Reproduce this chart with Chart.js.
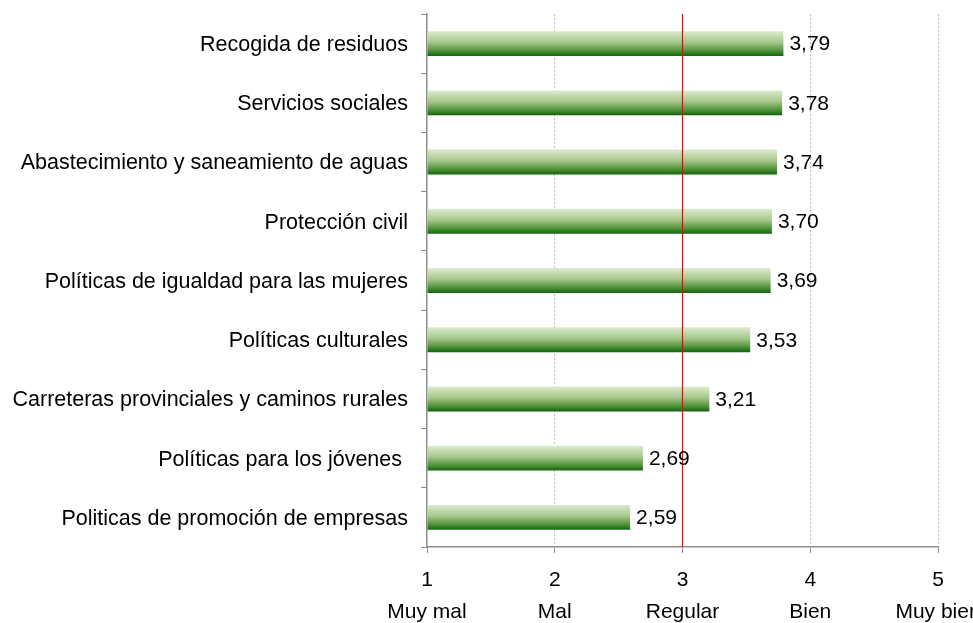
<!DOCTYPE html>
<html>
<head>
<meta charset="utf-8">
<script src="https://cdn.jsdelivr.net/npm/chart.js@4.4.1/dist/chart.umd.min.js"></script>
<style>
  html, body { margin: 0; padding: 0; background: #fff; }
  #wrap { width: 973px; height: 623px; }
</style>
</head>
<body>
<div id="wrap"><canvas id="grafico"></canvas></div>
<script>
// Servicios valorados y su nota media (1 = Muy mal ... 5 = Muy bien)
const servicios = [
  'Recogida de residuos',
  'Servicios sociales',
  'Abastecimiento y saneamiento de aguas',
  'Protección civil',
  'Políticas de igualdad para las mujeres',
  'Políticas culturales',
  'Carreteras provinciales y caminos rurales',
  'Políticas para los jóvenes ',
  'Politicas de promoción de empresas'
];
const valoraciones = [3.79, 3.78, 3.74, 3.70, 3.69, 3.53, 3.21, 2.69, 2.59];
const escala = ['Muy mal', 'Mal', 'Regular', 'Bien', 'Muy bien'];
const valorReferencia = 3;

const FUENTE = 'Liberation Sans, Arial, sans-serif';
const GROSOR = 0.42;

// degradado vertical por barra (claro arriba, verde oscuro abajo)
function degradado(ctx) {
  const chart = ctx.chart;
  const escY = chart.scales && chart.scales.y;
  if (!chart.chartArea || !escY || ctx.type !== 'data') return '#6a9f50';
  const yc = escY.getPixelForValue(ctx.dataIndex);
  const h = escY.height / servicios.length * GROSOR;
  const g = chart.ctx.createLinearGradient(0, yc - h / 2, 0, yc + h / 2);
  g.addColorStop(0, '#dcebd0');
  g.addColorStop(0.45, '#a6c78a');
  g.addColorStop(0.8, '#4d9036');
  g.addColorStop(1, '#0f6510');
  return g;
}

// linea roja en "Regular" y etiquetas de valor
const extras = {
  id: 'extras',
  afterDatasetsDraw(chart) {
    const c = chart.ctx;
    const x = chart.scales.x.getPixelForValue(valorReferencia);
    c.save();
    c.strokeStyle = '#ff0000';
    c.lineWidth = 1.2;
    c.beginPath();
    c.moveTo(x, chart.chartArea.top);
    c.lineTo(x, chart.chartArea.bottom);
    c.stroke();

    c.fillStyle = '#000';
    c.font = '21px ' + FUENTE;
    c.textAlign = 'left';
    c.textBaseline = 'middle';
    chart.getDatasetMeta(0).data.forEach((bar, i) => {
      c.fillText(valoraciones[i].toFixed(2).replace('.', ','), bar.x + 6, bar.y + 1);
    });
    c.restore();
  }
};

new Chart(document.getElementById('grafico'), {
  type: 'bar',
  data: {
    labels: servicios,
    datasets: [{
      data: valoraciones,
      base: 1,
      backgroundColor: degradado,
      barPercentage: GROSOR,
      categoryPercentage: 1
    }]
  },
  options: {
    indexAxis: 'y',
    responsive: true,
    maintainAspectRatio: false,
    animation: false,
    layout: { padding: { top: 14, right: 35, left: 0, bottom: 0 } },
    plugins: { legend: { display: false }, tooltip: { enabled: false } },
    scales: {
      x: {
        min: 1,
        max: 5,
        ticks: {
          stepSize: 1,
          color: '#000',
          padding: 11,
          maxRotation: 0,
          font: { family: FUENTE, size: 21, lineHeight: '32px' },
          callback: (v) => [String(v), escala[v - 1]]
        },
        grid: {
          color: (ctx) => (ctx.tick && (ctx.tick.value === 1 || ctx.tick.value === valorReferencia)) ? 'rgba(0,0,0,0)' : '#bdbdbd',
          tickColor: '#8c8c8c',
          tickLength: 6,
          tickBorderDash: []
        },
        border: { color: '#8c8c8c', width: 1.5, dash: [2, 2] },
        afterFit(scale) {
          scale.height = 76;
          scale.paddingLeft = 0;
          scale.paddingRight = 0;
        }
      },
      y: {
        ticks: {
          color: '#000',
          padding: 13,
          labelOffset: 1.5,
          autoSkip: false,
          font: { family: FUENTE, size: 21.5 }
        },
        grid: {
          offset: true,
          drawOnChartArea: false,
          tickColor: '#8c8c8c',
          tickLength: 6
        },
        border: { color: '#8c8c8c', width: 1.5 },
        afterFit(scale) {
          scale.width = 427;
          scale.paddingTop = 0;
          scale.paddingBottom = 0;
        }
      }
    }
  },
  plugins: [extras]
});
</script>
</body>
</html>
